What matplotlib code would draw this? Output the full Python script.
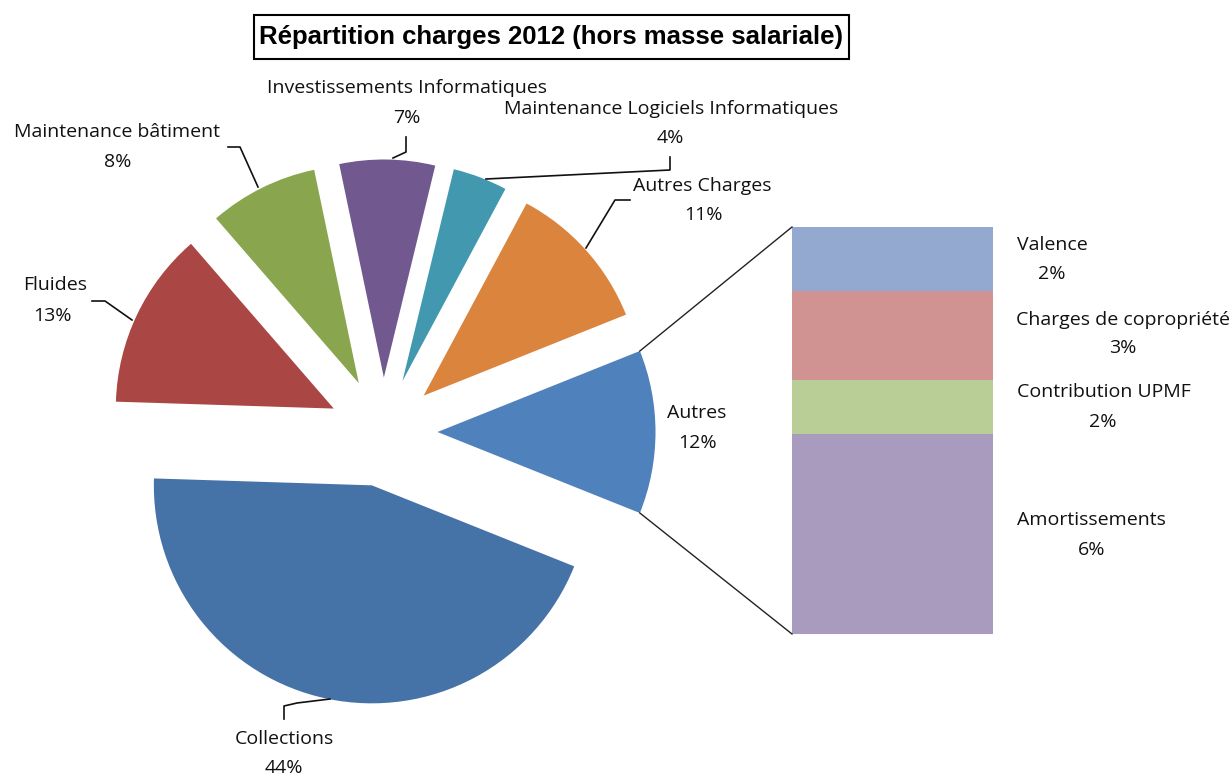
import matplotlib
matplotlib.use("Agg")
import matplotlib.pyplot as plt
from matplotlib import font_manager as fm
import numpy as np

# ---------------- data ----------------
pie_labels = ["Autres", "Autres Charges", "Maintenance Logiciels Informatiques",
              "Investissements Informatiques", "Maintenance bâtiment", "Fluides", "Collections"]
pie_values = [None, 11, 4, 7, 8, 13, 44]          # "Autres" = sum of the bar below
pie_colors = ["#4F81BD", "#DB843D", "#4198AF", "#71588F", "#89A54E", "#AA4643", "#4572A7"]

bar_labels = ["Valence", "Charges de copropriété", "Contribution UPMF", "Amortissements"]
bar_values = [1.9, 2.6, 1.6, 5.9]
bar_colors = ["#93A9CF", "#D19392", "#B9CD96", "#A99BBD"]

title = "Répartition charges 2012 (hors masse salariale)"

pie_values[0] = round(sum(bar_values), 1)

# ---------------- layout ----------------
W, H = 1231, 776
CX, CY, R = 383, 432, 218          # pie centre / radius in pixels
EXPLODE = 0.25                      # fraction of radius
BAR_X0, BAR_X1, BAR_Y0, BAR_Y1 = 792, 993, 227, 634

names = {f.name for f in fm.fontManager.ttflist}
label_font = "Open Sans" if "Open Sans" in names else "DejaVu Sans"
if "Liberation Sans Narrow" in names:
    title_font, title_size = "Liberation Sans Narrow", 22
else:
    title_font, title_size = "Liberation Sans", 18.5
LFS = 14

fig = plt.figure(figsize=(W / 100, H / 100), dpi=100)
fig.patch.set_facecolor("white")

# pie axes in radius units
ax_pie = fig.add_axes([0, 0, 1, 1])
total = sum(pie_values)
start = -360.0 * pie_values[0] / total / 2.0
wedges, _ = ax_pie.pie(pie_values, colors=pie_colors, explode=[EXPLODE] * len(pie_values),
                       startangle=start, counterclock=True, radius=1.0, center=(0, 0),
                       frame=True, wedgeprops=dict(linewidth=0))
ax_pie.set_xlim(-CX / R, (W - CX) / R)
ax_pie.set_ylim((CY - H) / R, CY / R)
ax_pie.set_aspect("auto")
ax_pie.axis("off")

# overlay axes in pixel coordinates (y down)
ax_t = fig.add_axes([0, 0, 1, 1], zorder=5)
ax_t.set_xlim(0, W)
ax_t.set_ylim(H, 0)
ax_t.axis("off")
ax_t.patch.set_alpha(0)

# stacked bar (top = Valence)
ax_bar = fig.add_axes([BAR_X0 / W, (H - BAR_Y1) / H, (BAR_X1 - BAR_X0) / W, (BAR_Y1 - BAR_Y0) / H])
bottom = 0.0
for v, c in zip(bar_values[::-1], bar_colors[::-1]):
    ax_bar.bar(0, v, width=1.0, bottom=bottom, color=c, linewidth=0)
    bottom += v
ax_bar.set_xlim(-0.5, 0.5)
ax_bar.set_ylim(0, bottom)
ax_bar.axis("off")

# connector lines from "Autres" wedge to bar
w0 = wedges[0]
to_px = lambda x, y: ax_t.transData.inverted().transform(ax_pie.transData.transform((x, y)))
cxw, cyw = w0.center
for ang, by in ((w0.theta2, BAR_Y0), (w0.theta1, BAR_Y1)):
    px, py = to_px(cxw + w0.r * np.cos(np.radians(ang)), cyw + w0.r * np.sin(np.radians(ang)))
    ax_t.plot([px, BAR_X0], [py, by], color="#222222", lw=1.0)

# pie labels (name, percentage) with leader lines
pie_label_pos = {
    "Autres": ((697, 413), (697, 443), None),
    "Autres Charges": ((702, 186), (703, 215), [(630, 200), (615, 200), (586, 248)]),
    "Maintenance Logiciels Informatiques": ((671, 109), (670, 138), [(670, 157), (670, 170), (486, 179)]),
    "Investissements Informatiques": ((407, 88), (407, 118), [(406, 137), (406, 152), (393, 158)]),
    "Maintenance bâtiment": ((117, 132), (118, 162), [(228, 147), (240, 147), (258, 187)]),
    "Fluides": ((55, 285), (52, 316), [(92, 301), (105, 301), (132, 320)]),
    "Collections": ((284, 739), (284, 768), [(284, 719), (284, 706), (297, 703), (330, 699)]),
}
for lab, v in zip(pie_labels, pie_values):
    (nx, ny), (qx, qy), leader = pie_label_pos[lab]
    ax_t.text(nx, ny, lab, ha="center", va="center", fontsize=LFS, family=label_font, color="#111111")
    ax_t.text(qx, qy, f"{round(v)}%", ha="center", va="center", fontsize=LFS, family=label_font, color="#111111")
    if leader:
        xs, ys = zip(*leader)
        ax_t.plot(xs, ys, color="#111111", lw=1.2)

bar_label_pos = [((1052, 245), (1052, 274)), ((1123, 320), (1123, 348)),
                 ((1104, 392), (1103, 422)), ((1091, 520), (1092, 550))]
for lab, v, ((nx, ny), (qx, qy)) in zip(bar_labels, bar_values, bar_label_pos):
    ax_t.text(nx, ny, lab, ha="center", va="center", fontsize=LFS, family=label_font, color="#111111")
    ax_t.text(qx, qy, f"{round(v)}%", ha="center", va="center", fontsize=LFS, family=label_font, color="#111111")

# title with box
ax_t.text(551, 37, title, ha="center", va="center", fontsize=title_size, family=title_font,
          fontweight="bold", color="black")
ax_t.add_patch(plt.Rectangle((254, 15), 595, 44, fill=False, edgecolor="black", lw=1.5))

fig.savefig("out.png", dpi=100, facecolor="white")
